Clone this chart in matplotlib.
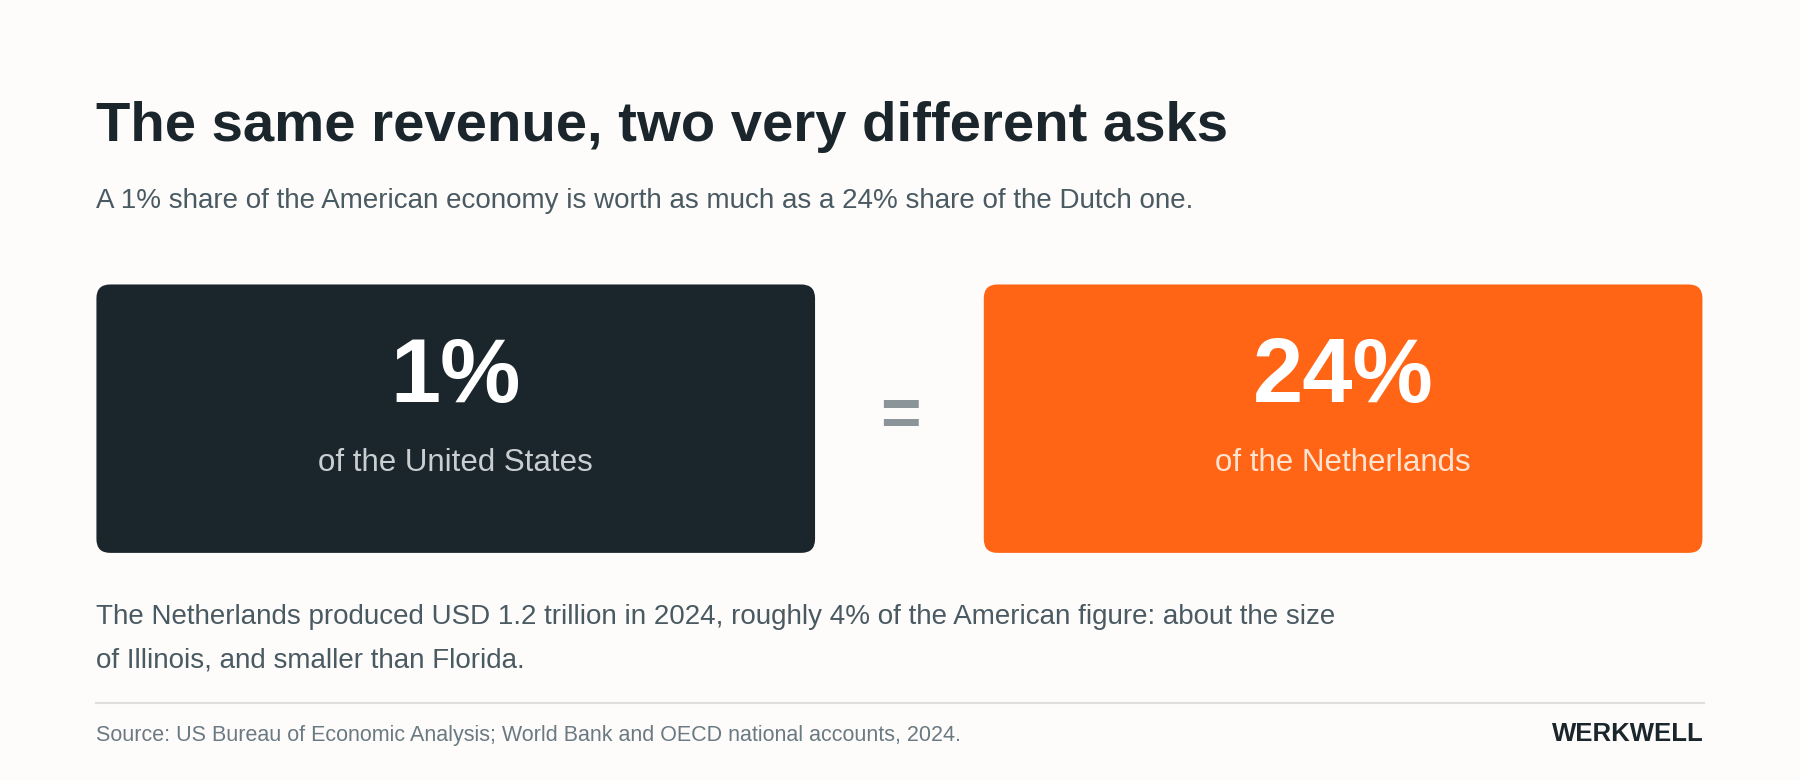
import matplotlib
matplotlib.use('Agg')
import matplotlib.pyplot as plt
from matplotlib.patches import FancyBboxPatch

# data
shares = [1, 24]
countries = ['of the United States', 'of the Netherlands']
box_colors = ['#1b262c', '#ff6515']
sub_colors = ['#c9ced1', '#ffe3d1']
title = 'The same revenue, two very different asks'
subtitle = 'A 1% share of the American economy is worth as much as a 24% share of the Dutch one.'
body = ['The Netherlands produced USD 1.2 trillion in 2024, roughly 4% of the American figure: about the size',
        'of Illinois, and smaller than Florida.']
source = 'Source: US Bureau of Economic Analysis; World Bank and OECD national accounts, 2024.'
brand = 'WERKWELL'

plt.rcParams['font.family'] = ['Liberation Sans', 'DejaVu Sans']
fig = plt.figure(figsize=(18, 7.8), dpi=100, facecolor='#fdfcfb')
ax = fig.add_axes([0, 0, 1, 1])
ax.set_xlim(0, 1568)
ax.set_ylim(680, 0)
ax.axis('off')

ax.text(84, 111, title, fontsize=40.5, fontweight='bold', color='#1b262c', va='center')
ax.text(84, 175, subtitle, fontsize=20, color='#4a5a62', va='center')

box_x = [84, 857]
for i in range(2):
    ax.add_patch(FancyBboxPatch((box_x[i] + 12, 260), 626 - 24, 234 - 24,
                                boxstyle='round,pad=12', fc=box_colors[i], ec='none'))
    cx = box_x[i] + 313
    ax.text(cx, 330, f'{shares[i]}%', fontsize=65, fontweight='bold', color='white',
            ha='center', va='center')
    ax.text(cx, 404, countries[i], fontsize=22.5, color=sub_colors[i], ha='center', va='center')

ax.text(784, 364, '=', fontsize=50, fontweight='bold', color='#8a9499', ha='center', va='center')

for k, line in enumerate(body):
    ax.text(84, 538 + k * 38, line, fontsize=20, color='#4a5a62', va='center')

ax.plot([84, 1484], [613, 613], color='#dddddd', lw=1.5)
ax.text(84, 641, source, fontsize=15.5, color='#6b7a82', va='center')
ax.text(1484, 640, brand, fontsize=18.5, fontweight='bold', color='#1b262c', ha='right', va='center')

fig.savefig('out.png', dpi=100, facecolor=fig.get_facecolor())
